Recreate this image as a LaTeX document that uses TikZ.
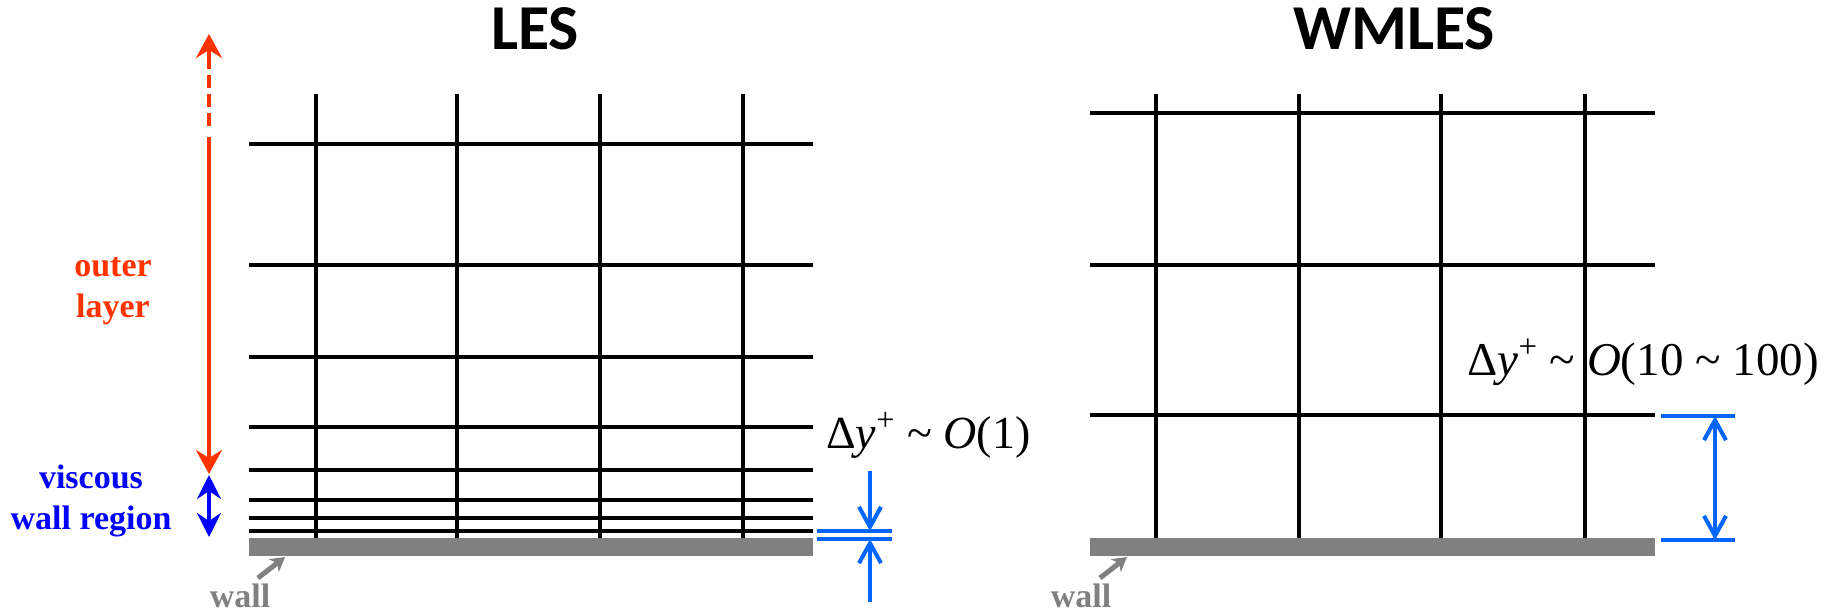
\documentclass[tikz,border=0pt]{standalone}
\usepackage{fontspec}
\setmainfont{Liberation Serif}
\newfontfamily\titlefont{Carlito}
\usepackage{tikz}
\usetikzlibrary{positioning,arrows.meta}
\definecolor{outerred}{HTML}{FF3300}
\definecolor{viscblue}{HTML}{0000FF}
\definecolor{dimblue}{HTML}{0066FF}
\definecolor{wallgray}{HTML}{808080}
\tikzset{
  meshline/.style={draw=black,line width=1.75pt},
  wallbar/.style={fill=wallgray,draw=none},
  dimline/.style={draw=dimblue,line width=2pt},
  dimarrow/.style={dimline,-{Straight Barb[length=10pt,width=11pt]}},
  dimboth/.style={dimline,{Straight Barb[length=10pt,width=11pt]}-{Straight Barb[length=10pt,width=11pt]}},
  layerhead/.style={line width=2pt,-{Stealth[length=12pt,width=13pt,inset=4pt]}},
  layerboth/.style={line width=2pt,{Stealth[length=12pt,width=12pt,inset=4pt]}-{Stealth[length=12pt,width=12pt,inset=4pt]}},
  wallarrow/.style={-{Stealth[length=7pt,width=8pt,inset=2pt]},draw=wallgray,line width=2.5pt},
  title/.style={font=\titlefont\bfseries\fontsize{32}{38}\selectfont,anchor=base,inner sep=0pt},
  regionlabel/.style={font=\bfseries\fontsize{17}{20.5}\selectfont,align=center,inner sep=0pt},
  walllabel/.style={font=\bfseries\fontsize{17}{20}\selectfont,text=wallgray,anchor=base,inner sep=0pt},
  dylabel/.style={font=\fontsize{23}{28}\selectfont,anchor=base west,inner sep=0pt}
}
\begin{document}
\begin{tikzpicture}[x=0.5pt,y=-0.5pt]
  \useasboundingbox (0,0) rectangle (1833,614);
  % titles
  \node[title] (lestitle) at (535,50) {LES};
  \node[title] (wmlestitle) at (1394,50) {WMLES};
  % LES mesh, refined towards the wall
  \foreach \y in {144,265,357,427,470,500,518,531}
    \draw[meshline] (249,\y) -- (813,\y);
  \foreach \x in {316,457,600,743}
    \draw[meshline] (\x,94) -- (\x,538);
  \fill[wallbar] (249,538) rectangle (813,556);
  % WMLES mesh
  \foreach \y in {113,265,415}
    \draw[meshline] (1090,\y) -- (1655,\y);
  \foreach \x in {1156,1299,1441,1585}
    \draw[meshline] (\x,94) -- (\x,538);
  \fill[wallbar] (1090,538) rectangle (1655,556);
  % layers
  \coordinate (outertop) at (209,34);
  \coordinate (outerhead) at (209,56);
  \coordinate (outerdash) at (209,130);
  \coordinate (outersolid) at (209,137);
  \coordinate (outerbot) at (209,474);
  \coordinate (visctop) at (209,475);
  \coordinate (viscbot) at (209,537);
  \draw[outerred,layerhead] (outerhead) -- (outertop);
  \draw[outerred,line width=2pt,dash pattern=on 6.5pt off 3pt] (outerhead) -- (outerdash);
  \draw[outerred,layerhead] (outersolid) -- (outerbot);
  \draw[viscblue,layerboth] (visctop) -- (viscbot);
  \node[regionlabel,text=outerred] (outerlabel) at (113,291) {outer\\layer};
  \node[regionlabel,text=viscblue] (visclabel) at (91,501) {viscous\\wall region};
  % walls
  \node[walllabel] (leswall) at (240,608) {wall};
  \node[walllabel] (wmleswall) at (1081,608) {wall};
  \coordinate (leswalltail) at (258,578);
  \coordinate (leswalltip) at (285,557);
  \coordinate (wmleswalltail) at (1100,578);
  \coordinate (wmleswalltip) at (1127,557);
  \draw[wallarrow] (leswalltail) -- (leswalltip);
  \draw[wallarrow] (wmleswalltail) -- (wmleswalltip);
  % first cell height, LES
  \coordinate (lesextA) at (817,531);
  \coordinate (lesextAe) at (892,531);
  \coordinate (lesextB) at (817,539);
  \coordinate (lesextBe) at (892,539);
  \draw[dimline] (lesextA) -- (lesextAe);
  \draw[dimline] (lesextB) -- (lesextBe);
  \coordinate (lesdimtop) at (870,471);
  \coordinate (lesdimbot) at (870,602);
  \draw[dimarrow] (lesdimtop) -- (870,531);
  \draw[dimarrow] (lesdimbot) -- (870,539);
  \node[dylabel] (lesdy) at (826,449) {Δ\textit{y}\textsuperscript{+} \textasciitilde{} \textit{O}(1)};
  % first cell height, WMLES
  \coordinate (wmextA) at (1661,416);
  \coordinate (wmextAe) at (1735,416);
  \coordinate (wmextB) at (1661,540);
  \coordinate (wmextBe) at (1735,540);
  \draw[dimline] (wmextA) -- (wmextAe);
  \draw[dimline] (wmextB) -- (wmextBe);
  \draw[dimboth] (1715,416) -- (1715,540);
  \node[dylabel,font=\fontsize{23.5}{28}\selectfont] (wmlesdy) at (1467,376) {Δ\textit{y}\textsuperscript{+} \textasciitilde{} \textit{O}(10 \textasciitilde{} 100)};
\end{tikzpicture}
\end{document}
